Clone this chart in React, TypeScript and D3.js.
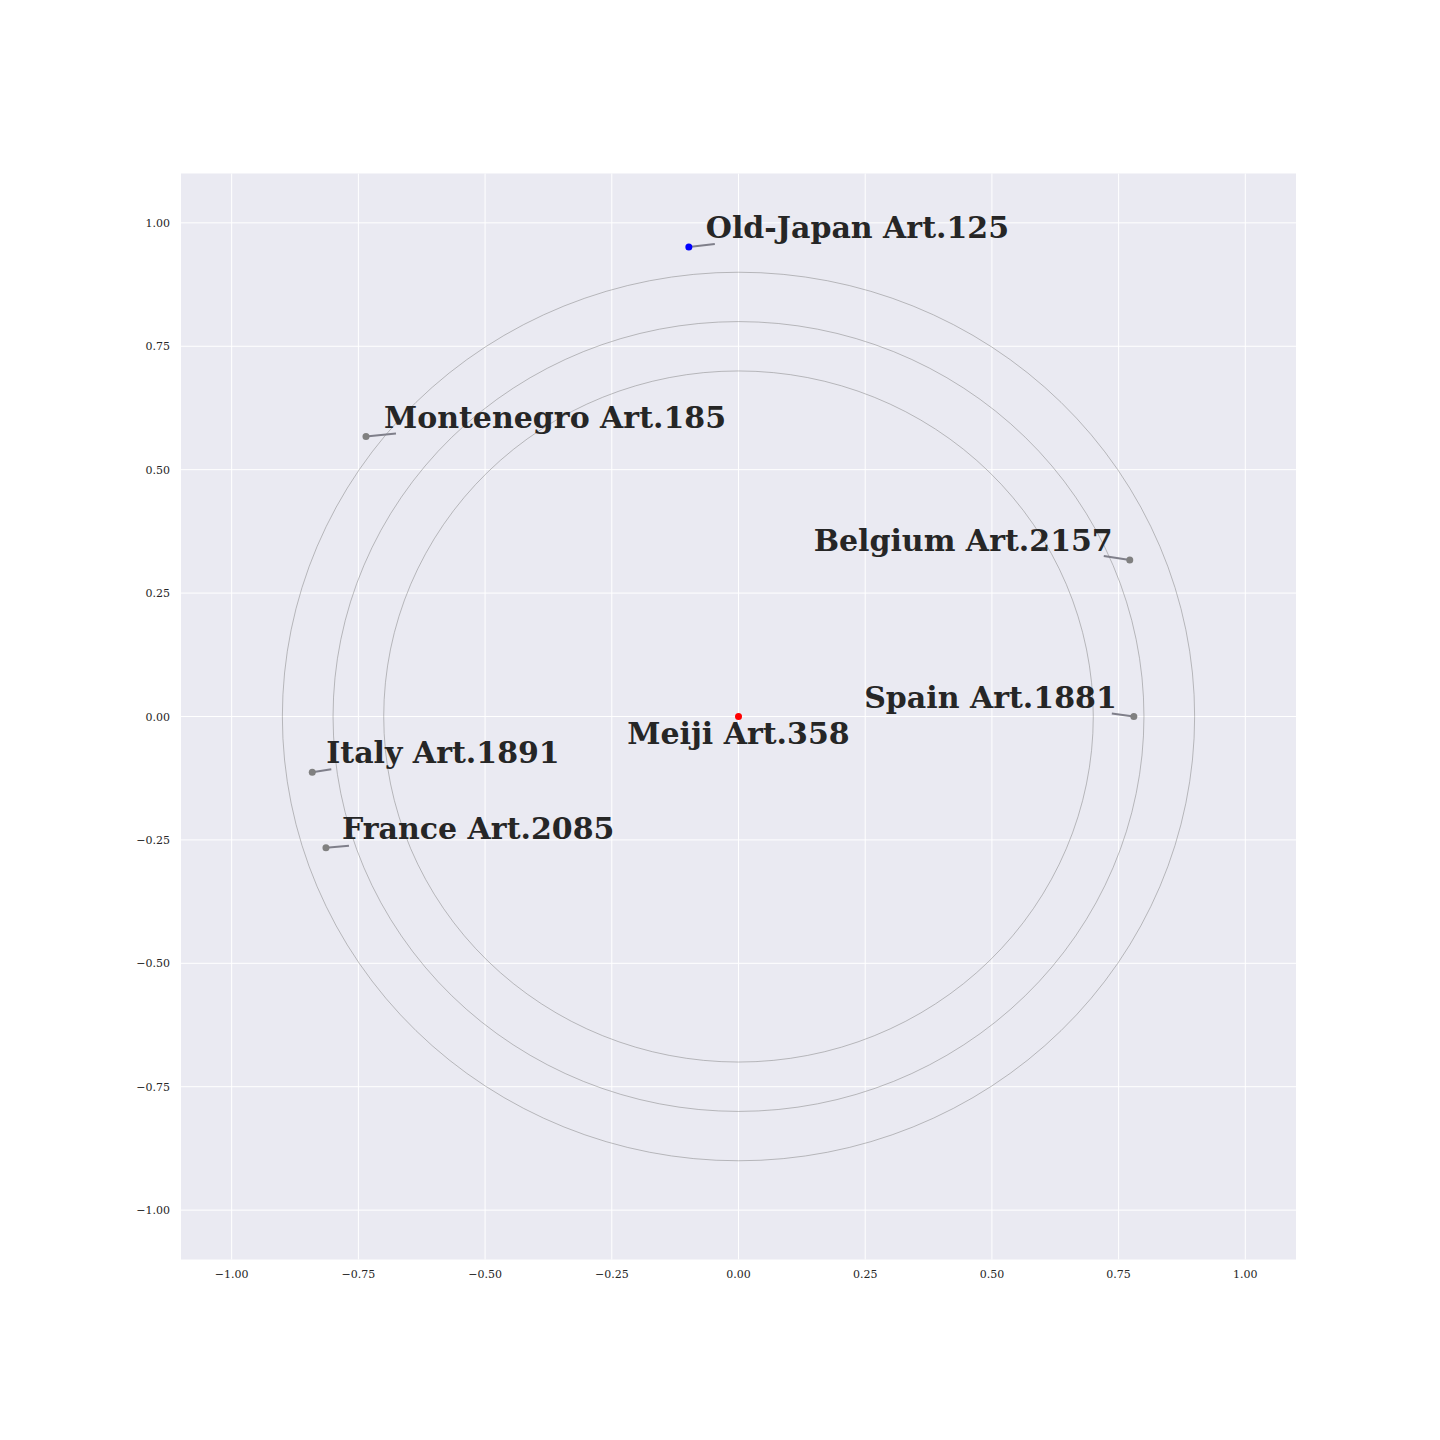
import React from "react";
import * as d3 from "d3";

const names = ["Meiji Art.358", "Old-Japan Art.125", "Montenegro Art.185", "Belgium Art.2157", "Spain Art.1881", "Italy Art.1891", "France Art.2085"];
const xs = [0, -0.098, -0.735, 0.772, 0.78, -0.841, -0.814];
const ys = [0, 0.951, 0.567, 0.317, 0, -0.113, -0.266];
const colors = ["red", "blue", "grey", "grey", "grey", "grey", "grey"];
const ringRadii = [0.7, 0.8, 0.9];
const ticks = [-1, -0.75, -0.5, -0.25, 0, 0.25, 0.5, 0.75, 1];

// label placement (pixel offsets from point): text dx, dy, anchor, line-end dx, dy
const labelDx = [0, 17, 18, -17, -17, 14, 16];
const labelDy = [27, -9, -9, -9, -9, -9, -9];
const labelAnchor = ["middle", "start", "start", "end", "end", "start", "start"];
const lineDx = [0, 26, 30, -26, -22, 19, 23];
const lineDy = [0, -3, -3, -4, -3, -3, -2];

const W = 1440, H = 1440;
const L = 181, R = 1296, T = 173.5, B = 1259.5;

export default function App() {
  const x = d3.scaleLinear().domain([-1.1, 1.1]).range([L, R]);
  const y = d3.scaleLinear().domain([-1.1, 1.1]).range([B, T]);
  const fmt = (v: number) => (v < 0 ? "\u2212" : "") + Math.abs(v).toFixed(2);
  const font = "'DejaVu Serif', serif";
  return (
    <svg width={W} height={H} style={{ position: "absolute", left: 0, top: 0, background: "white" }}>
      <rect x={L} y={T} width={R - L} height={B - T} fill="#EAEAF2" />
      {ticks.map((t) => (
        <g key={"g" + t}>
          <line x1={x(t)} x2={x(t)} y1={T} y2={B} stroke="white" strokeWidth={1} />
          <line x1={L} x2={R} y1={y(t)} y2={y(t)} stroke="white" strokeWidth={1} />
          <text x={x(t)} y={B + 18} textAnchor="middle" fontFamily={font} fontSize={11} fill="#262626">{fmt(t)}</text>
          <text x={L - 11} y={y(t) + 4} textAnchor="end" fontFamily={font} fontSize={11} fill="#262626">{fmt(t)}</text>
        </g>
      ))}
      {ringRadii.map((r) => (
        <ellipse key={"r" + r} cx={x(0)} cy={y(0)} rx={x(r) - x(0)} ry={y(0) - y(r)} fill="none" stroke="grey" strokeWidth={0.5} />
      ))}
      {names.map((n, i) => {
        const px = x(xs[i]), py = y(ys[i]);
        return (
          <g key={n}>
            {i > 0 && (
              <line x1={px} y1={py} x2={px + lineDx[i]} y2={py + lineDy[i]} stroke="#7f7f8a" strokeWidth={2} />
            )}
            <circle cx={px} cy={py} r={3.5} fill={colors[i]} />
            <text x={px + labelDx[i]} y={py + labelDy[i]} textAnchor={labelAnchor[i]} fontFamily={font} fontWeight="bold" fontSize={30} fill="#262626">{n}</text>
          </g>
        );
      })}
    </svg>
  );
}
